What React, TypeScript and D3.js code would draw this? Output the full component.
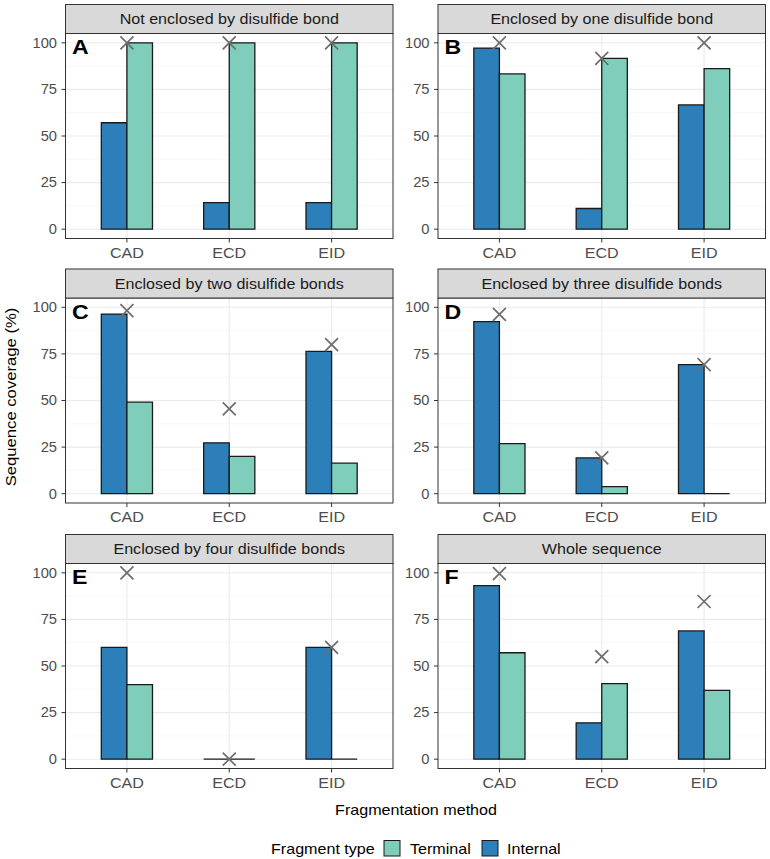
import React from "react";
import * as d3 from "d3";

const methods = ["CAD", "ECD", "EID"];
const panelTitles = [
  "Not enclosed by disulfide bond",
  "Enclosed by one disulfide bond",
  "Enclosed by two disulfide bonds",
  "Enclosed by three disulfide bonds",
  "Enclosed by four disulfide bonds",
  "Whole sequence",
];
const panelLetters = ["A", "B", "C", "D", "E", "F"];
const internalValues = [
  [57.1, 14.3, 14.3],
  [97.2, 11.1, 66.7],
  [96.4, 27.3, 76.4],
  [92.3, 19.2, 69.2],
  [60, 0, 60],
  [93.1, 19.5, 68.8],
];
const terminalValues = [
  [100, 100, 100],
  [83.3, 91.7, 86.1],
  [49.1, 20.0, 16.4],
  [26.9, 3.8, 0],
  [40, 0, 0],
  [57.1, 40.5, 36.9],
];
const totalValues = [
  [100, 100, 100],
  [100, 91.7, 100],
  [98.2, 45.5, 80.0],
  [96.2, 19.2, 69.2],
  [100, 0, 60],
  [99.6, 55.0, 84.6],
];
const yTicks = [0, 25, 50, 75, 100];
const yMinor = [12.5, 37.5, 62.5, 87.5];
const seriesNames = ["Terminal", "Internal"];
const seriesColors = { Terminal: "#7FCDBB", Internal: "#2C7FB8" };

const W = 770;
const H = 859;
const colX = [65.5, 438];
const panelW = 327.5;
const rowY = [33.5, 298, 563.5];
const panelH = 205;
const stripH = 29;
const font = "Liberation Sans, Arial, sans-serif";
const SX = 1.15;

function T({
  x,
  y,
  children,
  size = 14,
  anchor = "start",
  baseline,
  fill = "#000",
  weight,
  rotate,
  sx = SX,
}: any) {
  const tf = `translate(${x},${y})${rotate ? ` rotate(${rotate})` : ""} scale(${sx},1)`;
  return (
    <text
      transform={tf}
      textAnchor={anchor}
      dominantBaseline={baseline}
      fontSize={size}
      fill={fill}
      fontWeight={weight}
      fontFamily={font}
    >
      {children}
    </text>
  );
}

function Panel({ idx }: { idx: number }) {
  const c = idx % 2;
  const r = Math.floor(idx / 2);
  const left = colX[c];
  const top = rowY[r];
  const x = d3.scalePoint<string>().domain(methods).range([left, left + panelW]).padding(0.6);
  const y = d3.scaleLinear().domain([-5, 105]).range([top + panelH, top]);
  const step = x.step();
  const barW = step * 0.25;
  const bars: any[] = [];
  methods.forEach((m, i) => {
    const cx = x(m)!;
    const vals = [
      { name: "Internal", v: internalValues[idx][i], x0: cx - barW },
      { name: "Terminal", v: terminalValues[idx][i], x0: cx },
    ];
    vals.forEach((b, j) => {
      const y0 = y(0);
      const y1 = y(b.v);
      const d = `M${b.x0},${y0}V${y1}H${b.x0 + barW}V${y0}Z`;
      bars.push(
        <path key={`b${i}-${j}`} d={d} fill={(seriesColors as any)[b.name]} stroke="#1a1a1a" strokeWidth={1.3} />
      );
    });
  });
  const crosses = methods.map((m, i) => {
    const cx = x(m)!;
    const cy = y(totalValues[idx][i]);
    const s = 6.5;
    return (
      <path
        key={`x${i}`}
        d={`M${cx - s},${cy - s}L${cx + s},${cy + s}M${cx - s},${cy + s}L${cx + s},${cy - s}`}
        stroke="#6e6e6e"
        strokeWidth={1.7}
        fill="none"
      />
    );
  });
  return (
    <g>
      <rect x={left} y={top} width={panelW} height={panelH} fill="#fff" />
      {yMinor.map((t) => (
        <line key={`mn${t}`} x1={left} x2={left + panelW} y1={y(t)} y2={y(t)} stroke="#F2F2F2" strokeWidth={0.6} />
      ))}
      {yTicks.map((t) => (
        <line key={`mj${t}`} x1={left} x2={left + panelW} y1={y(t)} y2={y(t)} stroke="#EBEBEB" strokeWidth={1.1} />
      ))}
      {methods.map((m) => (
        <line key={`v${m}`} x1={x(m)} x2={x(m)} y1={top} y2={top + panelH} stroke="#EBEBEB" strokeWidth={1.1} />
      ))}
      {bars}
      {crosses}
      <rect x={left} y={top} width={panelW} height={panelH} fill="none" stroke="#333333" strokeWidth={1} />
      <rect x={left} y={top - stripH} width={panelW} height={stripH} fill="#D9D9D9" stroke="#333333" strokeWidth={1} />
      <T x={left + panelW / 2} y={top - stripH / 2} anchor="middle" baseline="central" fill="#1A1A1A">
        {panelTitles[idx]}
      </T>
      <T x={left + 6.5} y={top + 20.5} size={21} weight="bold" sx={1.1}>
        {panelLetters[idx]}
      </T>
      {yTicks.map((t) => (
        <g key={`yt${t}`}>
          <line x1={left - 4} x2={left} y1={y(t)} y2={y(t)} stroke="#333333" strokeWidth={1} />
          <T x={left - 8.5} y={y(t)} anchor="end" baseline="central" fill="#4D4D4D" sx={1.05}>
            {t}
          </T>
        </g>
      ))}
      {methods.map((m) => (
        <g key={`xt${m}`}>
          <line x1={x(m)} x2={x(m)} y1={top + panelH} y2={top + panelH + 4} stroke="#333333" strokeWidth={1} />
          <T x={x(m)} y={top + panelH + 19} anchor="middle" fill="#4D4D4D">
            {m}
          </T>
        </g>
      ))}
    </g>
  );
}

export default function App() {
  const legendItems = [
    { name: seriesNames[0], box: 384, tx: 410 },
    { name: seriesNames[1], box: 482, tx: 507 },
  ];
  return (
    <svg
      width={W}
      height={H}
      style={{ position: "absolute", left: 0, top: 0, display: "block", background: "#fff" }}
    >
      <rect x={0} y={0} width={W} height={H} fill="#fff" />
      {panelTitles.map((_, i) => (
        <Panel key={i} idx={i} />
      ))}
      <T x={15.5} y={397} rotate={-90} anchor="middle" size={14.5}>
        Sequence coverage (%)
      </T>
      <T x={416} y={815} anchor="middle">
        Fragmentation method
      </T>
      <T x={271} y={848.5} baseline="central">
        Fragment type
      </T>
      {legendItems.map((it) => (
        <g key={it.name}>
          <rect
            x={it.box}
            y={840.5}
            width={16}
            height={15.5}
            fill={(seriesColors as any)[it.name]}
            stroke="#1a1a1a"
            strokeWidth={1}
          />
          <T x={it.tx} y={848.5} baseline="central">
            {it.name}
          </T>
        </g>
      ))}
    </svg>
  );
}
